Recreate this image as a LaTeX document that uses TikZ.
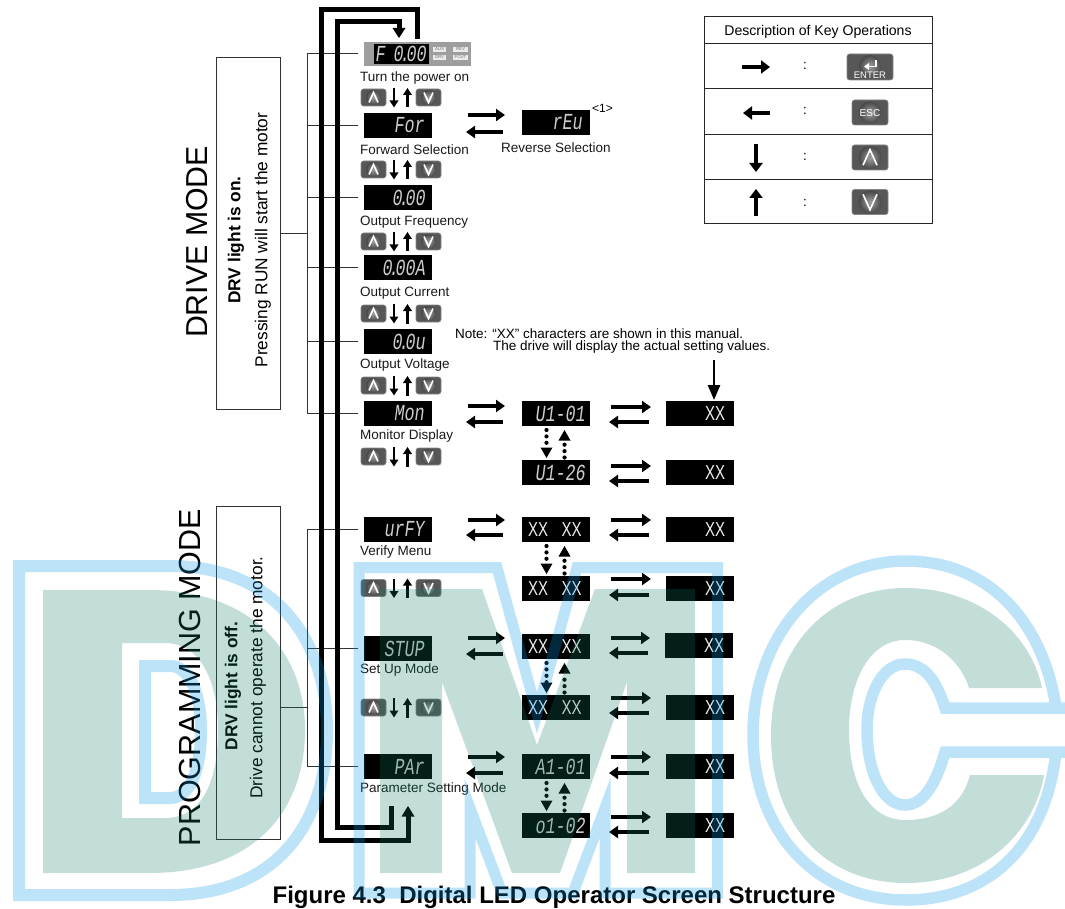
\documentclass[tikz,border=0pt]{standalone}
\usepackage{fontspec}
\setmainfont{Liberation Sans}
\newfontfamily\ledfont[FakeSlant=0.18]{Liberation Mono}
\usetikzlibrary{arrows.meta,calc,shadings}
\definecolor{wmgreen}{RGB}{16,125,100}
\definecolor{wmblue}{RGB}{10,150,230}
\definecolor{thin}{RGB}{50,50,50}
\definecolor{ledc}{RGB}{205,205,205}
\newcommand{\ledtxt}[1]{{\ledfont\fontsize{17}{17}\selectfont\scalebox{0.98}[1.35]{#1}}}
\newcommand{\kd}{\kern-3.6pt.\kern-3.6pt}
\newcommand{\xxt}{\scalebox{1}[1.35]{XX}}
\tikzset{
  screen/.style={fill=black,draw=none,minimum width=68pt,minimum height=25pt,inner sep=0pt,outer sep=0pt},
  ledlabel/.style={text=ledc,anchor=east,inner sep=0pt},
  xxlabel/.style={text=white!93!black,inner sep=0pt,font=\fontsize{15}{15}\selectfont},
  lbl/.style={anchor=west,inner sep=0pt,font=\fontsize{13.5}{13.5}\selectfont,text=black!90},
  bigarrow/.style={line width=4.4pt,-{Triangle[length=9pt,width=12pt]}},
  loopline/.style={line width=5pt,miter limit=10},
  smallarrow/.style={line width=2.6pt,-{Triangle[length=7pt,width=8.5pt]}},
  tablearrow/.style={line width=4.6pt,-{Triangle[length=9pt,width=13pt]}},
  dotline/.style={line width=4.2pt,line cap=round,dash pattern=on 0pt off 6.4pt},
  dothead/.style={fill=black,draw=none},
  thinline/.style={draw=thin,line width=1pt},
  modebox/.style={draw=thin,line width=1pt,minimum width=64pt,inner sep=0pt,outer sep=0pt},
  keybox/.style={rounded corners=2.5pt,fill=black!66,draw=black!48,line width=.6pt,inner sep=0pt,outer sep=0pt},
  keyball/.style={circle,inner sep=0pt,draw=none,outer color=black!72,inner color=black!38},
  chev/.style={draw=white,line width=1.7pt,line cap=butt,line join=miter},
  rowline/.style={draw=black!85,line width=1pt},
}
\newcommand{\keyshape}[5]{\node[keybox,minimum width=#4pt,minimum height=#5pt] (#1) at (#2,#3) {};}
\newcommand{\upkey}[6]{\keyshape{#1}{#2}{#3}{#4}{#5}
  \node[keyball,minimum size=#5pt-2pt] at (#1.center) {};
  \draw[chev] ($(#1.center)+(-.50*#6,.55*#6)$) -- ($(#1.center)+(0,-.55*#6)$) -- ($(#1.center)+(.50*#6,.55*#6)$);}
\newcommand{\dnkey}[6]{\keyshape{#1}{#2}{#3}{#4}{#5}
  \node[keyball,minimum size=#5pt-2pt] at (#1.center) {};
  \draw[chev] ($(#1.center)+(-.50*#6,-.55*#6)$) -- ($(#1.center)+(0,.55*#6)$) -- ($(#1.center)+(.50*#6,-.55*#6)$);}
\newcommand{\keyrow}[2]{
  \upkey{ku#1}{373.5}{#2}{25}{17}{9}
  \dnkey{kd#1}{428.5}{#2}{25}{17}{9}
  \coordinate (adt#1) at (394,#2-9.5);
  \coordinate (adb#1) at (394,#2+10);
  \coordinate (aut#1) at (407.5,#2-9.5);
  \coordinate (aub#1) at (407.5,#2+10);
  \draw[smallarrow] (adt#1) -- (adb#1);
  \draw[smallarrow] (aub#1) -- (aut#1);
}
\newcommand{\pairarrows}[8]{
  \path ($(#1.east)+(0,#7)$) coordinate (pR);
  \path ($(#1.east)+(0,#8)$) coordinate (pL);
  \draw[bigarrow] ($(pR)+(#3,0)$) -- ($(#2.west |- pR)+(#4,0)$);
  \draw[bigarrow] ($(#2.west |- pL)+(#6,0)$) -- ($(pL)+(#5,0)$);
}
\newcommand{\colOne}[4]{\pairarrows{#1}{#2}{36}{-17}{34}{-19}{#3}{#4}}
\newcommand{\colTwo}[4]{\pairarrows{#1}{#2}{21}{-15}{19}{-17}{#3}{#4}}
\newcommand{\dotpair}[2]{
  \draw[dotline] ($(#1.south)+(-9.5,4)$) -- ($(#2.north)+(-9.5,-12)$);
  \path ($(#2.north)+(-9.5,-2)$) coordinate (tipD);
  \fill[dothead] (tipD) -- ++(-6,-10.5) -- ++(12,0) -- cycle;
  \draw[dotline] ($(#2.north)+(8.5,-2.5)$) -- ($(#1.south)+(8.5,15)$);
  \path ($(#1.south)+(8.5,4)$) coordinate (tipU);
  \fill[dothead] (tipU) -- ++(-6,10.5) -- ++(12,0) -- cycle;
}
\begin{document}
\begin{tikzpicture}[x=1pt,y=-1pt]
\useasboundingbox (0,0) rectangle (1065,909);

\node[modebox,minimum height=351pt] (drvbox) at (248,233.5) {};
\node[modebox,minimum height=333pt] (prgbox) at (248,672.5) {};
\node[rotate=90,inner sep=0pt,font=\fontsize{30.3}{31}\selectfont] (drvtitle) at (197,242) {DRIVE MODE};
\node[rotate=90,inner sep=0pt,font=\fontsize{30.5}{31}\selectfont] (prgtitle) at (190,677.5) {PROGRAMMING MODE};
\node[rotate=90,inner sep=0pt,font=\fontsize{17.3}{17.3}\selectfont\bfseries] (drvt1) at (236,240) {DRV light is on.};
\node[rotate=90,inner sep=0pt,font=\fontsize{17.3}{17.3}\selectfont] (drvt2) at (263,240) {Pressing RUN will start the motor};
\node[rotate=90,inner sep=0pt,font=\fontsize{17.3}{17.3}\selectfont\bfseries] (prgt1) at (233,686) {DRV light is off.};
\node[rotate=90,inner sep=0pt,font=\fontsize{17.3}{17.3}\selectfont] (prgt2) at (258,677.5) {Drive cannot operate the motor.};

\node[fill=black!38,minimum width=107pt,minimum height=24pt,inner sep=0pt,outer sep=0pt] (fpanel) at (417.5,54) {};
\node[fill=black,minimum width=55pt,minimum height=20pt,inner sep=0pt,outer sep=0pt] (fled) at (401.5,54) {};
\node[ledlabel] (fledt) at (426,54) {\ledtxt{F\kern-2pt\ 0\kd 00}};
\foreach \nm/\xx/\yy/\ww/\tt in {ialm/439.5/49.5/13/ALM,irev/460.5/49.5/15/REV,idrv/439.5/57.5/13/DRV,ifout/460.5/57.5/15/FOUT}{
  \node[fill=white!92!black,minimum width=\ww pt,minimum height=5.5pt,inner sep=0pt,text=black!55,font=\fontsize{4.3}{4.3}\selectfont] (\nm) at (\xx,\yy) {\tt};
}
\node[screen] (sFor) at (398,125.5) {};
\node[screen] (sFrq) at (398,197.5) {};
\node[screen] (sCur) at (398,267.5) {};
\node[screen] (sVlt) at (398,341.5) {};
\node[screen] (sMon) at (398,413.5) {};
\node[screen] (sVrf) at (398,529.5) {};
\node[screen] (sStp) at (398,648.5) {};
\node[screen] (sPar) at (398,766.5) {};
\node[ledlabel] (tFor) at (424,125.5) {\ledtxt{For}};
\node[ledlabel] (tFrq) at (425,197.5) {\ledtxt{0\kd 00}};
\node[ledlabel] (tCur) at (425,267.5) {\ledtxt{0\kd 00A}};
\node[ledlabel] (tVlt) at (425,341.5) {\ledtxt{0\kd 0u}};
\node[ledlabel] (tMon) at (424,413.5) {\ledtxt{Mon}};
\node[ledlabel] (tVrf) at (424,529.5) {\ledtxt{urFY}};
\node[ledlabel] (tStp) at (424,648.5) {\ledtxt{STUP}};
\node[ledlabel] (tPar) at (424,766.5) {\ledtxt{PAr}};

\node[lbl] (l1) at (360,78) {Turn the power on};
\node[lbl] (l2) at (360,150) {Forward Selection};
\node[lbl] (l3) at (360,222) {Output Frequency};
\node[lbl] (l4) at (360,293) {Output Current};
\node[lbl] (l5) at (360,365) {Output Voltage};
\node[lbl] (l6) at (360,436) {Monitor Display};
\node[lbl] (l7) at (360,552) {Verify Menu};
\node[lbl] (l8) at (360,670) {Set Up Mode};
\node[lbl] (l9) at (360,789) {Parameter Setting Mode};
\node[lbl] (l10) at (501,148) {Reverse Selection};
\node[anchor=west,inner sep=0pt,font=\fontsize{12}{12}\selectfont] (l11) at (592,108) {<1>};
\node[anchor=west,inner sep=0pt,font=\fontsize{13.5}{13.5}\selectfont] (n1) at (455,334) {Note: “XX” characters are shown in this manual.};
\node[anchor=west,inner sep=0pt,font=\fontsize{13.5}{13.5}\selectfont] (n2) at (493,347) {The drive will display the actual setting values.};

\node[screen] (sRev) at (556,122.5) {};
\node[ledlabel] at ([xshift=26pt]sRev.center) {\ledtxt{rEu}};
\node[screen] (bA) at (556,413.5) {};
\node[screen] (bB) at (556,472.5) {};
\node[screen] (bC) at (556,529.5) {};
\node[screen] (bD) at (556,588.5) {};
\node[screen] (bE) at (556,646.5) {};
\node[screen] (bF) at (556,707.5) {};
\node[screen] (bG) at (556,766.5) {};
\node[screen] (bH) at (556,825.5) {};
\node[ledlabel] at ([xshift=29pt]bA.center) {\ledtxt{U1-01}};
\node[ledlabel] at ([xshift=29pt]bB.center) {\ledtxt{U1-26}};
\node[ledlabel] at ([xshift=29pt]bG.center) {\ledtxt{A1-01}};
\node[ledlabel] at ([xshift=29pt]bH.center) {\ledtxt{o1-02}};
\foreach \b in {bC,bD,bE,bF}{
  \node[xxlabel] at ([xshift=-18pt]\b.center) {\xxt};
  \node[xxlabel] at ([xshift=15.5pt]\b.center) {\xxt};
}
\node[screen] (cA) at (700,413.5) {};
\node[screen] (cB) at (700,472.5) {};
\node[screen] (cC) at (700,529.5) {};
\node[screen] (cD) at (700,588.5) {};
\node[screen] (cE) at (699,645.5) {};
\node[screen] (cF) at (700,707.5) {};
\node[screen] (cG) at (700,766.5) {};
\node[screen] (cH) at (700,825.5) {};
\foreach \b in {cA,cB,cC,cD,cE,cF,cG,cH}{
  \node[xxlabel] at ([xshift=15pt]\b.center) {\xxt};
}

\coordinate (busD) at (307,233.5);
\coordinate (busP) at (307,707);
\draw[thinline] (drvbox.east) -- (busD);
\draw[thinline] (prgbox.east |- busP) -- (busP);
\foreach \s in {fpanel,sFor,sFrq,sCur,sVlt,sMon}{
  \draw[thinline] ([xshift=-6pt]\s.west) -| (busD);
}
\foreach \s in {sVrf,sStp,sPar}{
  \draw[thinline] ([xshift=-6pt]\s.west) -| (busP);
}

\keyrow{a}{97.5}
\keyrow{b}{169.5}
\keyrow{c}{241.5}
\keyrow{d}{313.5}
\keyrow{e}{385.5}
\keyrow{f}{456.5}
\keyrow{g}{588}
\keyrow{h}{707.5}

\coordinate (parOutEnd) at (408,806);
\coordinate (parInStart) at (391,806);
\draw[loopline] ([yshift=3pt]fpanel.north) -- (417.5,9.5) -- (321,9.5) -- (321,840) -- (408,840) -- (408,815);
\fill (parOutEnd) -- ++(-6.5,10.5) -- ++(13,0) -- cycle;
\draw[loopline] (parInStart) -- (391,827) -- (337,827) -- (337,22) -- (399,22) -- (399,30);
\fill ([xshift=-18.5pt,yshift=4pt]fpanel.north) -- ++(-6.5,-10) -- ++(13,0) -- cycle;

\colOne{sFor}{sRev}{-10.5}{6.5}
\colOne{sMon}{bA}{-7.5}{8.5}
\colOne{sVrf}{bC}{-9.5}{5.5}
\colOne{sStp}{bE}{-10.5}{5.5}
\colOne{sPar}{bG}{-9.5}{6.5}
\colTwo{bA}{cA}{-6.5}{8.5}
\colTwo{bB}{cB}{-6.5}{8.5}
\colTwo{bC}{cC}{-9.5}{5.5}
\colTwo{bD}{cD}{-9.5}{6.5}
\colTwo{bE}{cE}{-8.5}{6.5}
\colTwo{bF}{cF}{-9.5}{5.5}
\colTwo{bG}{cG}{-9.5}{6.5}
\colTwo{bH}{cH}{-8.5}{6.5}

\dotpair{bA}{bB}
\dotpair{bC}{bD}
\dotpair{bE}{bF}
\dotpair{bG}{bH}

\coordinate (noteA) at (714,360);
\draw[line width=2.6pt,-{Triangle[length=15pt,width=12pt]}] (noteA) -- ([xshift=14pt,yshift=1pt]cA.north);

\node[draw=black!85,line width=1pt,minimum width=228pt,minimum height=207pt,inner sep=0pt,outer sep=0pt] (tbl) at (818,120.5) {};
\draw[rowline] (704,44) -- (932,44);
\draw[rowline] (704,89) -- (932,89);
\draw[rowline] (704,135) -- (932,135);
\draw[rowline] (704,180) -- (932,180);
\node[inner sep=0pt,font=\fontsize{14.1}{14.1}\selectfont] (tblt) at (818,31.5) {Description of Key Operations};
\coordinate (tr1) at (742,67); \coordinate (tr2) at (770,67);
\coordinate (tl1) at (770,113); \coordinate (tl2) at (743,113);
\coordinate (td1) at (756,144); \coordinate (td2) at (756,172);
\coordinate (tu1) at (756,216); \coordinate (tu2) at (756,189);
\draw[tablearrow] (tr1) -- (tr2);
\draw[tablearrow] (tl1) -- (tl2);
\draw[tablearrow] (td1) -- (td2);
\draw[tablearrow] (tu1) -- (tu2);
\node[inner sep=0pt,font=\fontsize{13.5}{13.5}\selectfont] (c1) at (805,65.5) {:};
\node[inner sep=0pt,font=\fontsize{13.5}{13.5}\selectfont] (c2) at (805,110.5) {:};
\node[inner sep=0pt,font=\fontsize{13.5}{13.5}\selectfont] (c3) at (805,156.5) {:};
\node[inner sep=0pt,font=\fontsize{13.5}{13.5}\selectfont] (c4) at (805,202.5) {:};
\keyshape{kEnter}{870}{67}{46}{26}
\node[keyball,minimum size=22pt] (kEb) at (870,66) {};
\draw[white,line width=1.7pt] (876,60) -- (876,66.5) -- (868,66.5);
\fill[white] (864,66.5) -- (869,63) -- (869,70) -- cycle;
\node[text=white,inner sep=0pt,font=\fontsize{9.5}{9.5}\selectfont] (kEt) at (870,75.5) {ENTER};
\keyshape{kEsc}{870}{112.5}{36}{25}
\node[keyball,minimum size=22pt] (kEsb) at (870,112.5) {};
\node[text=white,inner sep=0pt,font=\fontsize{10}{10}\selectfont] (kEst) at (870,113) {ESC};
\upkey{kUp}{870}{157.5}{36}{25}{14}
\dnkey{kDn}{870}{202}{36}{25}{14}

\node[inner sep=0pt,font=\fontsize{24}{24}\selectfont\bfseries] (cap) at (554,897.5) {Figure 4.3\ \ Digital LED Operator Screen Structure};

\begin{scope}[line join=miter,miter limit=10]
\fill[wmgreen,opacity=.25,even odd rule]
  (43,590) -- (150,590) .. controls (250,590) and (305,650) .. (305,730)
  .. controls (305,815) and (250,873) .. (150,873) -- (43,873) -- cycle
  (122,643) -- (165,643) .. controls (200,643) and (218,680) .. (218,730)
  .. controls (218,785) and (200,818) .. (165,818) -- (122,818) -- cycle;
\fill[wmgreen,opacity=.25]
  (380,589) -- (482,589) -- (537,745) -- (595,589) -- (695,589) -- (695,873)
  -- (627,873) -- (627,682) -- (560,873) -- (512,873) -- (442,682) -- (442,873) -- (380,873) -- cycle;
\fill[wmgreen,opacity=.25]
  (1042,688) .. controls (1030,630) and (975,588) .. (906,588)
  .. controls (825,588) and (771,650) .. (771,735)
  .. controls (771,825) and (825,883) .. (906,883)
  .. controls (985,883) and (1035,830) .. (1044,775)
  -- (970,775) .. controls (962,805) and (940,820) .. (905,820)
  .. controls (870,820) and (849,785) .. (849,730)
  .. controls (849,680) and (870,640) .. (905,640)
  .. controls (940,640) and (962,665) .. (969,688) -- cycle;
\draw[wmblue,opacity=.27,line width=12pt]
  (19,566) -- (170,566) .. controls (275,566) and (327,640) .. (327,730)
  .. controls (327,825) and (275,895) .. (170,895) -- (19,895) -- cycle
  (145,666) -- (170,666) .. controls (190,666) and (201,695) .. (201,730)
  .. controls (201,770) and (190,798) .. (170,798) -- (145,798) -- cycle;
\draw[wmblue,opacity=.27,line width=11pt]
  (359,567.5) -- (497,567.5) -- (537,713) -- (577,567.5) -- (717.5,567.5) -- (717.5,893)
  -- (605,893) -- (605,808) -- (573,893) -- (502,893) -- (470,808) -- (470,893) -- (359,893) -- cycle;
\draw[wmblue,opacity=.27,line width=11.5pt]
  (1072,708) -- (945,708) .. controls (937,682) and (925,664) .. (905,664)
  .. controls (882,664) and (867,695) .. (867,730)
  .. controls (867,770) and (882,805) .. (905,805)
  .. controls (925,805) and (937,780) .. (945,752) -- (1072,752)
  (1056,752) .. controls (1045,850) and (985,900) .. (906,900)
  .. controls (815,900) and (753,830) .. (753,735)
  .. controls (753,640) and (815,561) .. (906,561)
  .. controls (995,561) and (1045,630) .. (1056,708);
\end{scope}
\end{tikzpicture}
\end{document}
